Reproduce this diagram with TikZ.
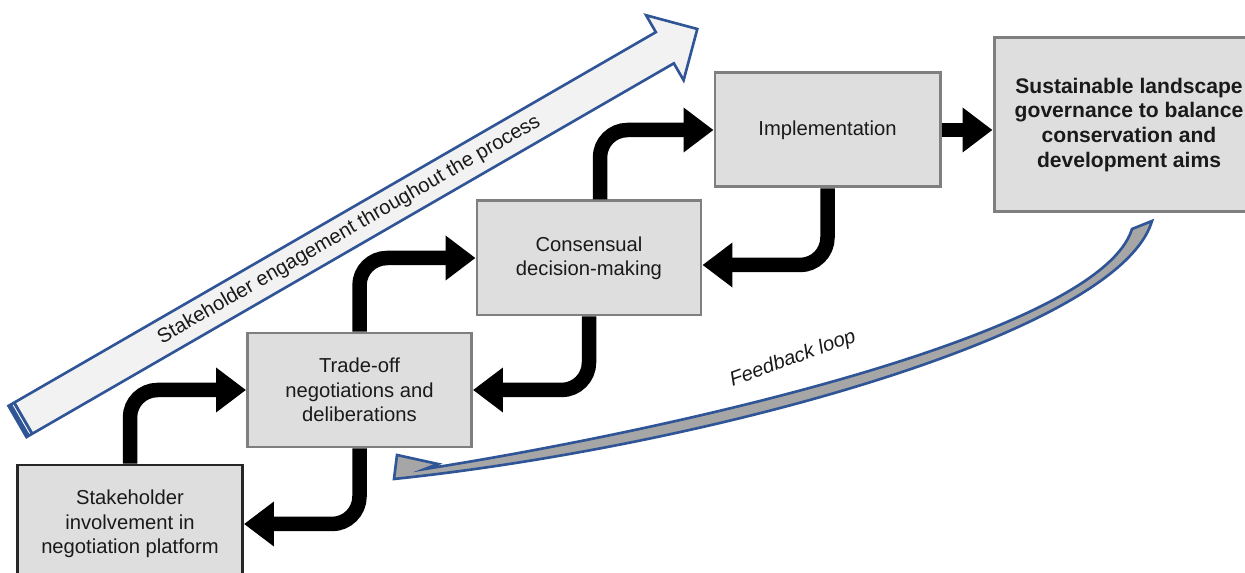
\documentclass[tikz,border=0pt]{standalone}
\usepackage{fontspec}
\setmainfont{Liberation Sans}
\usetikzlibrary{arrows.meta,positioning,calc}
\definecolor{BoxFill}{HTML}{DEDEDE}
\definecolor{BoxLine}{HTML}{7F7F7F}
\definecolor{DarkLine}{HTML}{262626}
\definecolor{Navy}{HTML}{2F5597}
\definecolor{Mist}{HTML}{F2F2F2}
\definecolor{Loop}{HTML}{A6A6A6}
\definecolor{Text}{HTML}{1A1A1A}

\begin{document}
\begin{tikzpicture}[text=Text,font=\fontsize{11.5}{13.8}\selectfont,box/.style={draw=BoxLine,fill=BoxFill,line width=1.7pt,minimum width=4.5cm,minimum height=2.28cm,align=center},flow/.style={-{Triangle[length=0.6cm,width=0.86cm]},line width=0.29cm,rounded corners=0.55cm},band/.style={draw=Navy,line width=1.5pt,line join=miter}]
\useasboundingbox (0,0) rectangle (24.9,11.46);
\begin{scope}[shift={(0.35,3.03)},rotate=30]
\draw[band,fill=Mist] (0,-0.36) -- (14.95,-0.36) -- (14.95,-0.75) -- (15.7,0) -- (14.95,0.75) -- (14.95,0.36) -- (0,0.36) -- cycle;
\fill[Navy] (0,-0.36) rectangle (0.16,0.36);
\draw[white,line width=0.5pt] (0.09,-0.33) -- (0.09,0.33);
\node[rotate=30] (engage) at (7.66,0){Stakeholder engagement throughout the process};
\end{scope}
\node[box,draw=DarkLine,minimum height=2.36cm] (involve) at (2.6,0.98){Stakeholder\\involvement in\\negotiation platform};
\node[box,minimum width=4.48cm] (tradeoff) at (7.19,3.66){Trade-off\\negotiations and\\deliberations};
\node[box,minimum width=4.48cm] (consensus) at (11.78,6.3){Consensual\\decision-making};
\node[box] (implement) at (16.55,8.86){Implementation};
\node[box,minimum width=5.4cm,minimum height=3.48cm,font=\fontsize{12}{14.2}\selectfont\bfseries] (governance) at (22.58,8.96){Sustainable landscape\\governance to balance\\conservation and\\development aims};
\draw[flow] (involve.north) |- (tradeoff.west);
\draw[flow] (tradeoff.north) |- (consensus.west);
\draw[flow] ([xshift=0.22cm]consensus.north) |- (implement.west);
\draw[flow] (implement.east) -- (implement.east -| governance.west);
\draw[flow] (implement.south) |- ([yshift=-0.14cm]consensus.east);
\draw[flow] (consensus.south) |- (tradeoff.east);
\draw[flow] (tradeoff.south) |- (involve.east);
\draw[band,fill=Loop] (23.04,7.04) .. controls (22.36,4.76) and (14.0,2.52) .. (7.88,1.88) -- (7.94,2.36) -- (8.76,2.18) -- (8.5,2.08) .. controls (13.8,2.92) and (22.0,4.82) .. (22.64,6.88) -- cycle;
\node[rotate=20,font=\fontsize{11.5}{13.8}\selectfont\itshape] (feedback) at (15.86,4.28){Feedback loop};
\end{tikzpicture}
\end{document}
